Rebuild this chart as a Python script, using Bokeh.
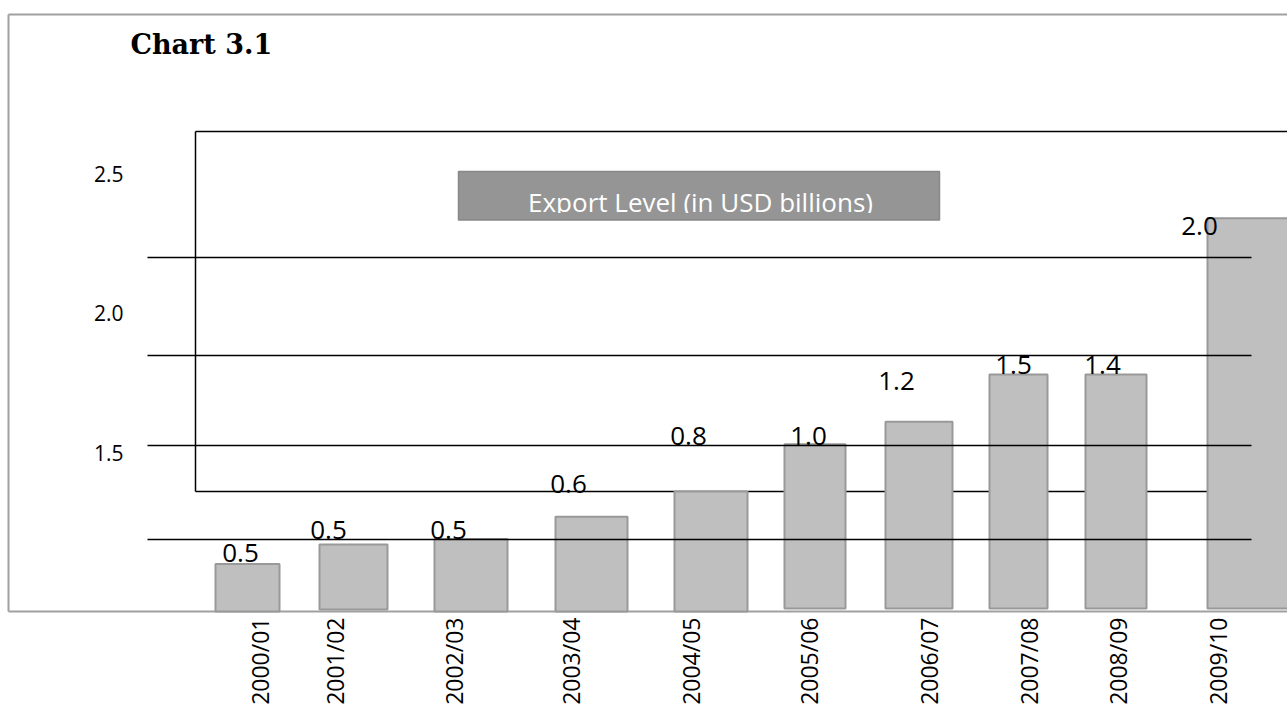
import math
from bokeh.plotting import figure
from bokeh.models import Range1d, ColumnDataSource
from bokeh.core.properties import value
from bokeh.embed import file_html
from bokeh.resources import INLINE

# ---- data ----
categories = ["2000/01", "2001/02", "2002/03", "2003/04", "2004/05",
              "2005/06", "2006/07", "2007/08", "2008/09", "2009/10"]
export_values = [0.5, 0.5, 0.5, 0.6, 0.8, 1.0, 1.2, 1.5, 1.4, 2.0]
# bar tops as drawn (2.5 / 2.0 / 1.5)
bar_tops = [1.10, 1.17, 1.19, 1.27, 1.36, 1.53, 1.61, 1.78, 1.78, 2.34]
y_tick_values = [2.5, 2.0, 1.5]
y_tick_labels = ["2.5", "2.0", "1.5"]
title_text = "Chart 3.1"
legend_text = "Export Level (in USD billions)"

# ---- layout (page positions) ----
W, H = 1287, 704
def Y(px):
    """page pixel row -> axis units"""
    return 1.5 + (452 - px) / 279.0

BASE_SHIFT = 9  # renderer places alphabetic baseline a little low
bar_left = [215, 319, 434, 555, 674, 784, 885, 989, 1085, 1207]
bar_right = [279, 387, 507, 627, 747, 845, 952, 1047, 1146, 1300]
bar_base_px = [611, 609, 611, 611, 611, 608, 608, 608, 608, 608]
val_label_x = [240, 328, 448, 568, 688, 808, 896, 1013, 1102, 1199]
val_label_px = [561, 538, 538, 492, 444, 444, 389, 373, 373, 234]
cat_label_x = [259, 334, 453, 570, 690, 808, 928, 1028, 1117, 1217]
grid_px = [257, 355, 445, 539]

p = figure(width=W, height=H, x_range=Range1d(0, W), y_range=Range1d(Y(H), Y(0)),
           output_backend="svg", toolbar_location=None,
           x_axis_location=None, y_axis_location=None, min_border=0,
           outline_line_color=None, background_fill_color="white",
           border_fill_color="white")
p.grid.visible = False

# outer frame (gray)
p.segment(x0=[8, 8, 8], y0=[Y(14), Y(14), Y(611)], x1=[8, 1300, 1300], y1=[Y(611), Y(14), Y(611)],
          line_color="#a0a0a0", line_width=2)

# inner box (black), behind bars
p.segment(x0=[195, 195, 195], y0=[Y(131), Y(131), Y(491)], x1=[195, 1300, 1300],
          y1=[Y(491), Y(131), Y(491)], line_color="black", line_width=1.5)

# gray legend box with clipped white text
p.quad(left=[458], right=[939], top=[Y(171)], bottom=[Y(219.5)],
       fill_color="#959595", line_color="#888888", line_width=1.5)
p.text(x=[700], y=[Y(210.5 - BASE_SHIFT)], text=[legend_text], text_color="white",
       text_font=value("Open Sans"), text_font_size="26px",
       text_align="center", text_baseline="alphabetic")
p.quad(left=[459.5], right=[937.5], top=[Y(212.5)], bottom=[Y(218.3)],
       fill_color="#959595", line_color=None)

# bars
src = ColumnDataSource(dict(
    cat=categories, val=export_values, top=bar_tops,
    left=bar_left, right=bar_right, bottom=[Y(b) for b in bar_base_px],
))
p.quad(left="left", right="right", top="top", bottom="bottom", source=src,
       fill_color="#bfbfbf", line_color="#999999", line_width=2)

# horizontal gridlines over bars
p.segment(x0=[147] * len(grid_px), x1=[1251] * len(grid_px),
          y0=[Y(g) for g in grid_px], y1=[Y(g) for g in grid_px],
          line_color="black", line_width=1.5)

# value labels
p.text(x=val_label_x, y=[Y(v - BASE_SHIFT) for v in val_label_px],
       text=[f"{v:.1f}" for v in export_values], text_color="black",
       text_font=value("Open Sans"), text_font_size="26px",
       text_align="center", text_baseline="alphabetic")

# y tick labels
p.text(x=[123] * 3, y=y_tick_values, text=y_tick_labels, text_color="black",
       text_font=value("Open Sans"), text_font_size="21px",
       text_align="right", text_baseline="middle")

# category labels (rotated)
p.text(x=cat_label_x, y=[Y(617)] * len(categories), text=categories,
       angle=math.pi / 2, text_color="black",
       text_font=value("Open Sans"), text_font_size="23px",
       text_align="right", text_baseline="middle")

# title
p.text(x=[130], y=[Y(53 - BASE_SHIFT)], text=[title_text], text_color="black",
       text_font=value("DejaVu Serif"), text_font_style="bold",
       text_font_size="27px", text_align="left", text_baseline="alphabetic")

open("out.html", "w").write(file_html(p, INLINE))
